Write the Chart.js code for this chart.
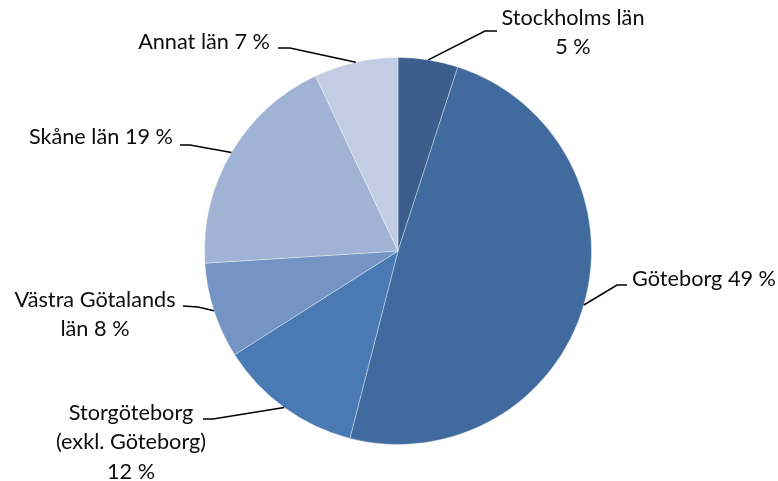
<!DOCTYPE html>
<html>
<head>
<meta charset="utf-8">
<script src="https://cdn.jsdelivr.net/npm/chart.js@4"></script>
<style>
  html, body { margin: 0; padding: 0; background: #fff; }
  #wrap { width: 778px; height: 481px; }
</style>
</head>
<body>
<div id="wrap"><canvas id="chart1"></canvas></div>
<script>
// categories (line breaks where the label wraps)
const categories = ['Stockholms län', 'Göteborg', 'Storgöteborg\n(exkl. Göteborg)', 'Västra Götalands\nlän', 'Skåne län', 'Annat län'];
// share in percent
const shares = [5, 49, 12, 8, 19, 7];
const sliceColors = ['#3b5e8c', '#416a9e', '#4a7ab4', '#7394c5', '#a1b3d4', '#c2cde3'];

// where each label sits: text anchor, alignment, value on own line, leader elbow and end
const labelLayout = [
  { x: 573, y: 18, align: 'center', ownLine: true,  elbow: [485, 31], end: [497, 31] },
  { x: 632, y: 279, align: 'left',  ownLine: false, elbow: [617, 285], end: [627, 285] },
  { x: 131, y: 413, align: 'center', ownLine: true,  elbow: [213, 419], end: [203, 419] },
  { x: 95,  y: 300, align: 'center', ownLine: false, elbow: [198, 307], end: [183, 306] },
  { x: 173, y: 137, align: 'right', ownLine: false, elbow: [190, 145], end: [180, 145] },
  { x: 270, y: 42,  align: 'right', ownLine: false, elbow: [290, 48], end: [278, 48] }
];
const lineGap = 29.5;

// labels with leader lines, drawn after the slices
const leaderLabels = {
  id: 'leaderLabels',
  afterDatasetsDraw(chart) {
    const ctx = chart.ctx;
    const arcs = chart.getDatasetMeta(0).data;
    ctx.save();
    arcs.forEach((arc, i) => {
      const lay = labelLayout[i];
      const mid = (arc.startAngle + arc.endAngle) / 2;
      const sx = arc.x + Math.cos(mid) * arc.outerRadius;
      const sy = arc.y + Math.sin(mid) * arc.outerRadius;

      ctx.strokeStyle = '#000';
      ctx.lineWidth = 1.5;
      ctx.beginPath();
      ctx.moveTo(sx, sy);
      ctx.lineTo(lay.elbow[0], lay.elbow[1]);
      ctx.lineTo(lay.end[0], lay.end[1]);
      ctx.stroke();

      const value = shares[i] + ' %';
      let lines = categories[i].split('\n');
      if (lay.ownLine) lines.push(value);
      else lines[lines.length - 1] += ' ' + value;

      ctx.fillStyle = '#0d0d0d';
      ctx.font = '21.7px Lato';
      ctx.textAlign = lay.align;
      ctx.textBaseline = 'middle';
      lines.forEach((t, k) => ctx.fillText(t, lay.x, lay.y + k * lineGap));
    });
    ctx.restore();
  }
};

const config = {
  type: 'pie',
  data: {
    labels: categories,
    datasets: [{
      data: shares,
      backgroundColor: sliceColors,
      borderColor: 'rgba(255,255,255,0.35)',
      borderWidth: 1
    }]
  },
  options: {
    responsive: true,
    maintainAspectRatio: false,
    animation: false,
    layout: { padding: { top: 57, bottom: 36, left: 204, right: 186 } },
    plugins: {
      legend: { display: false },
      tooltip: { enabled: false }
    }
  },
  plugins: [leaderLabels]
};

const myChart = new Chart(document.getElementById('chart1'), config);
</script>
</body>
</html>
